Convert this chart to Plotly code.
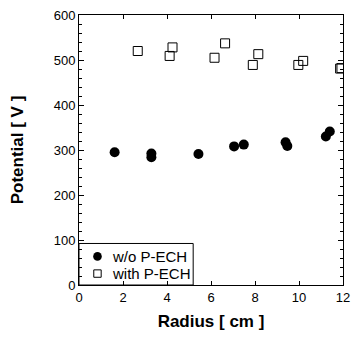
import plotly.graph_objects as go

# w/o P-ECH (filled circles)
r_wo = [1.62, 3.29, 3.29, 5.43, 7.05, 7.49, 9.39, 9.47, 11.22, 11.40]
v_wo = [295, 292, 284, 291, 308, 312, 317, 309, 330, 341]

# with P-ECH (open squares)
r_with = [2.67, 4.12, 4.25, 6.16, 6.64, 7.90, 8.15, 9.97, 10.19, 11.87, 11.93]
v_with = [520, 509, 528, 505, 537, 489, 513, 489, 498, 481, 482]

x_ticks = [0, 2, 4, 6, 8, 10, 12]
y_ticks = [0, 100, 200, 300, 400, 500, 600]

series_names = ["w/o P-ECH", "with P-ECH"]

FONT = "Liberation Sans, Arial, sans-serif"

fig = go.Figure()
fig.add_trace(go.Scatter(
    x=r_wo, y=v_wo, mode="markers", name=series_names[0], showlegend=False,
    marker=dict(symbol="circle", size=10, color="black", line=dict(width=0)),
))
fig.add_trace(go.Scatter(
    x=r_with, y=v_with, mode="markers", name=series_names[1], showlegend=False,
    marker=dict(symbol="square-open", size=9, color="black", line=dict(width=1, color="black")),
))

# Legend box (drawn as layout decoration, in axis coordinates)
LEG_X1, LEG_Y1 = 5.19, 92.3
SYM_X, TXT_X = 0.84, 1.47
ROW_Y = [63.6, 25.4]

shapes = [
    dict(type="rect", xref="x", yref="y", x0=0, x1=LEG_X1, y0=0, y1=LEG_Y1,
         line=dict(color="black", width=1), fillcolor="rgba(0,0,0,0)", layer="above"),
    dict(type="circle", xref="x", yref="y", xsizemode="pixel", ysizemode="pixel",
         xanchor=SYM_X, yanchor=ROW_Y[0], x0=-4.3, x1=4.3, y0=-4.3, y1=4.3,
         fillcolor="black", line=dict(color="black", width=0)),
    dict(type="rect", xref="x", yref="y", xsizemode="pixel", ysizemode="pixel",
         xanchor=SYM_X, yanchor=ROW_Y[1], x0=-3.7, x1=3.7, y0=-3.7, y1=3.7,
         fillcolor="white", line=dict(color="black", width=1)),
]
annotations = [
    dict(x=TXT_X, y=ROW_Y[i], xref="x", yref="y", text=series_names[i],
         showarrow=False, xanchor="left", yanchor="middle",
         borderpad=0, valign="middle",
         font=dict(size=15, family=FONT, color="black"))
    for i in range(2)
]

fig.update_layout(
    width=358, height=338,
    margin=dict(l=79, r=8, t=14, b=53),
    paper_bgcolor="white", plot_bgcolor="white",
    font=dict(family=FONT, color="black", size=13),
    showlegend=False,
    shapes=shapes,
    annotations=annotations,
    xaxis=dict(
        range=[0, 12], tickvals=x_ticks, ticktext=[str(t) for t in x_ticks],
        ticks="inside", ticklen=4, tickwidth=1, tickcolor="black",
        showline=True, linecolor="black", linewidth=1, mirror="ticks",
        showgrid=False, zeroline=False,
        tickfont=dict(size=13),
        title=dict(text="<b>Radius [ cm ]</b>", font=dict(size=17), standoff=11),
    ),
    yaxis=dict(
        range=[0, 600], tickvals=y_ticks, ticktext=[str(t) for t in y_ticks],
        ticks="inside", ticklen=5, tickwidth=1, tickcolor="black",
        showline=True, linecolor="black", linewidth=1, mirror="ticks",
        showgrid=False, zeroline=False,
        tickfont=dict(size=13),
        minor=dict(dtick=20, ticks="inside", ticklen=3, tickcolor="black", showgrid=False),
        title=dict(text="<b>Potential [ V ]</b>", font=dict(size=17), standoff=25),
    ),
)

fig.write_html("out.html")
